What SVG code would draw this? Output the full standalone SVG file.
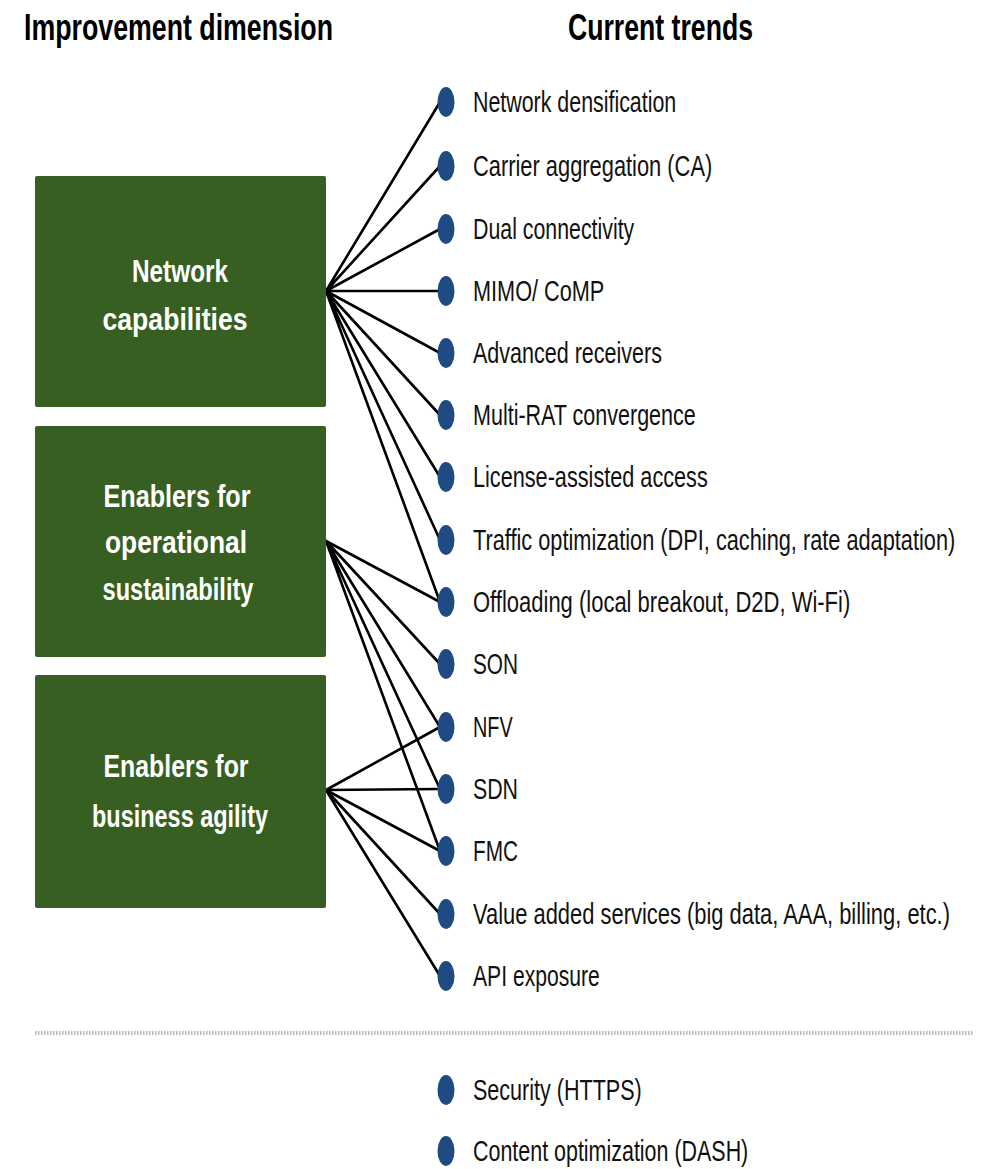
<svg xmlns="http://www.w3.org/2000/svg" width="984" height="1169" viewBox="0 0 984 1169">
<style>
.hd{font-family:"Liberation Sans",Arial,sans-serif;font-weight:bold;font-size:37px;fill:#000}
.box{fill:#375f22}
.bt{font-family:"Liberation Sans",Arial,sans-serif;font-weight:bold;font-size:32px;fill:#fff;text-anchor:middle}
.dot{fill:#1f4b82}
.it{font-family:"Liberation Sans",Arial,sans-serif;font-size:29px;fill:#111}
.ln{stroke:#000;stroke-width:2.6;fill:none;stroke-linecap:round}
</style>
<rect width="984" height="1169" fill="#fff"/>
<g id="headings">
<text class="hd" x="24" y="40" textLength="309" lengthAdjust="spacingAndGlyphs">Improvement dimension</text>
<text class="hd" x="568" y="40" textLength="185" lengthAdjust="spacingAndGlyphs">Current trends</text>
</g>
<g id="connectors">
<path class="ln" d="M326,291 L440,102 M326,291 L440,166 M326,291 L440,229 M326,291 L440,291 M326,291 L440,353 M326,291 L440,415 M326,291 L440,477 M326,291 L440,540 M326,291 L440,602"/>
<path class="ln" d="M326,541 L440,602 M326,541 L440,664 M326,541 L440,727 M326,541 L440,789 M326,541 L440,851"/>
<path class="ln" d="M326,790 L440,727 M326,790 L440,789 M326,790 L440,851 M326,790 L440,914 M326,790 L440,976"/>
</g>
<g id="node-network">
<rect class="box" x="35" y="176" width="291" height="231" rx="2"/>
<text class="bt" x="180" y="282" textLength="96" lengthAdjust="spacingAndGlyphs">Network</text>
<text class="bt" x="175" y="330" textLength="145" lengthAdjust="spacingAndGlyphs">capabilities</text>
</g>
<g id="node-operational">
<rect class="box" x="35" y="426" width="291" height="231" rx="2"/>
<text class="bt" x="177" y="507" textLength="147" lengthAdjust="spacingAndGlyphs">Enablers for</text>
<text class="bt" x="176" y="553" textLength="142" lengthAdjust="spacingAndGlyphs">operational</text>
<text class="bt" x="178" y="600" textLength="151" lengthAdjust="spacingAndGlyphs">sustainability</text>
</g>
<g id="node-business">
<rect class="box" x="35" y="675" width="291" height="233" rx="2"/>
<text class="bt" x="176" y="777" textLength="145" lengthAdjust="spacingAndGlyphs">Enablers for</text>
<text class="bt" x="180" y="827" textLength="176" lengthAdjust="spacingAndGlyphs">business agility</text>
</g>
<g id="trends">
<g id="t1"><ellipse class="dot" cx="446" cy="102" rx="8.5" ry="15"/><text class="it" transform="translate(473,112) scale(0.75,1)" textLength="271" lengthAdjust="spacingAndGlyphs">Network densification</text></g>
<g id="t2"><ellipse class="dot" cx="446" cy="166" rx="8.5" ry="15"/><text class="it" transform="translate(473,176) scale(0.75,1)" textLength="319" lengthAdjust="spacingAndGlyphs">Carrier aggregation (CA)</text></g>
<g id="t3"><ellipse class="dot" cx="446" cy="229" rx="8.5" ry="15"/><text class="it" transform="translate(473,239) scale(0.75,1)" textLength="215" lengthAdjust="spacingAndGlyphs">Dual connectivity</text></g>
<g id="t4"><ellipse class="dot" cx="446" cy="291" rx="8.5" ry="15"/><text class="it" transform="translate(473,301) scale(0.75,1)" textLength="175" lengthAdjust="spacingAndGlyphs">MIMO/ CoMP</text></g>
<g id="t5"><ellipse class="dot" cx="446" cy="353" rx="8.5" ry="15"/><text class="it" transform="translate(473,363) scale(0.75,1)" textLength="252" lengthAdjust="spacingAndGlyphs">Advanced receivers</text></g>
<g id="t6"><ellipse class="dot" cx="446" cy="415" rx="8.5" ry="15"/><text class="it" transform="translate(473,425) scale(0.75,1)" textLength="297" lengthAdjust="spacingAndGlyphs">Multi-RAT convergence</text></g>
<g id="t7"><ellipse class="dot" cx="446" cy="477" rx="8.5" ry="15"/><text class="it" transform="translate(473,487) scale(0.75,1)" textLength="313" lengthAdjust="spacingAndGlyphs">License-assisted access</text></g>
<g id="t8"><ellipse class="dot" cx="446" cy="540" rx="8.5" ry="15"/><text class="it" transform="translate(473,550) scale(0.75,1)" textLength="643" lengthAdjust="spacingAndGlyphs">Traffic optimization  (DPI, caching, rate adaptation)</text></g>
<g id="t9"><ellipse class="dot" cx="446" cy="602" rx="8.5" ry="15"/><text class="it" transform="translate(473,612) scale(0.75,1)" textLength="503" lengthAdjust="spacingAndGlyphs">Offloading (local breakout, D2D, Wi-Fi)</text></g>
<g id="t10"><ellipse class="dot" cx="446" cy="664" rx="8.5" ry="15"/><text class="it" transform="translate(473,674) scale(0.75,1)" textLength="60" lengthAdjust="spacingAndGlyphs">SON</text></g>
<g id="t11"><ellipse class="dot" cx="446" cy="727" rx="8.5" ry="15"/><text class="it" transform="translate(473,737) scale(0.75,1)" textLength="53" lengthAdjust="spacingAndGlyphs">NFV</text></g>
<g id="t12"><ellipse class="dot" cx="446" cy="789" rx="8.5" ry="15"/><text class="it" transform="translate(473,799) scale(0.75,1)" textLength="60" lengthAdjust="spacingAndGlyphs">SDN</text></g>
<g id="t13"><ellipse class="dot" cx="446" cy="851" rx="8.5" ry="15"/><text class="it" transform="translate(473,861) scale(0.75,1)" textLength="60" lengthAdjust="spacingAndGlyphs">FMC</text></g>
<g id="t14"><ellipse class="dot" cx="446" cy="914" rx="8.5" ry="15"/><text class="it" transform="translate(473,924) scale(0.75,1)" textLength="636" lengthAdjust="spacingAndGlyphs">Value added  services (big data, AAA, billing, etc.)</text></g>
<g id="t15"><ellipse class="dot" cx="446" cy="976" rx="8.5" ry="15"/><text class="it" transform="translate(473,986) scale(0.75,1)" textLength="169" lengthAdjust="spacingAndGlyphs">API exposure</text></g>
</g>
<line id="separator" x1="35" y1="1033" x2="973" y2="1033" stroke="#b8b8b8" stroke-width="4" stroke-dasharray="1.5,1.5"/>
<g id="other-trends">
<g id="t16"><ellipse class="dot" cx="446" cy="1090" rx="8.5" ry="15"/><text class="it" transform="translate(473,1100) scale(0.75,1)" textLength="225" lengthAdjust="spacingAndGlyphs">Security (HTTPS)</text></g>
<g id="t17"><ellipse class="dot" cx="446" cy="1151" rx="8.5" ry="15"/><text class="it" transform="translate(473,1161) scale(0.75,1)" textLength="367" lengthAdjust="spacingAndGlyphs">Content optimization  (DASH)</text></g>
</g>
</svg>
